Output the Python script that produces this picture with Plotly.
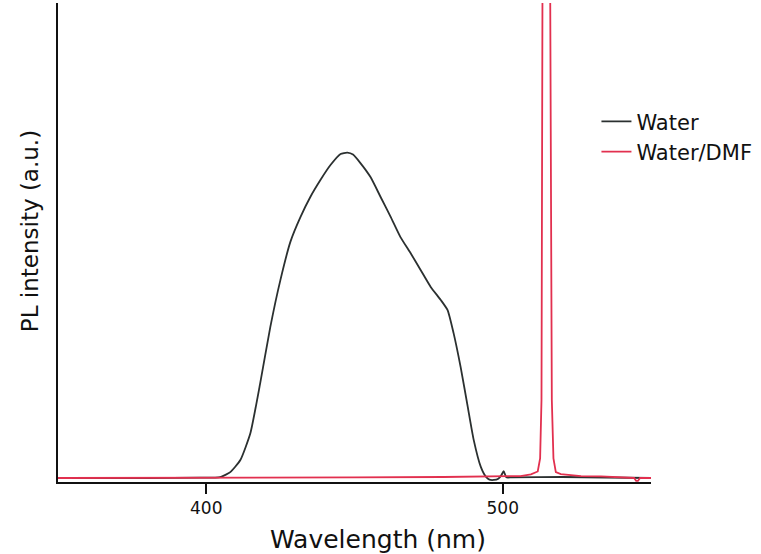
import plotly.graph_objects as go

# Water emission spectrum (a.u., peak ~1)
wl_water = [350, 380, 398, 404.7, 408.1, 411.5, 414.9, 418.2, 421.6, 425.0, 428.4,
            431.8, 435.1, 438.5, 441.9, 445.3, 447.6, 449.5, 452.0, 455.4, 458.8,
            462.2, 465.5, 468.9, 472.3, 475.7, 479.1, 481.4, 483.4, 485.8, 488.2,
            490.2, 492.6, 494.3, 495.5, 497.0, 498.5, 499.5, 500.3, 501.2, 503,
            520, 550]
pl_water = [0, 0, 0.001, 0.003, 0.018, 0.055, 0.138, 0.291, 0.463, 0.607, 0.725,
            0.801, 0.862, 0.914, 0.960, 0.994, 0.998, 0.992, 0.966, 0.923, 0.862,
            0.801, 0.739, 0.690, 0.638, 0.586, 0.546, 0.515, 0.445, 0.340, 0.218,
            0.117, 0.034, 0.004, -0.005, -0.006, -0.002, 0.008, 0.021, 0.002, 0.002,
            0.003, 0.0]

# Water/DMF emission spectrum (sharp peak near 515 nm, off scale)
wl_dmf = [350, 400, 450, 480, 500, 506, 509.5, 511.1, 511.8, 512.6, 513.07, 513.4,
          514.7, 516.0, 516.55, 517.1, 517.9, 519.6, 526.4, 533.1, 539.9, 544.3,
          545.0, 545.6, 546.3, 550]
pl_dmf = [0, 0, 0.002, 0.003, 0.004, 0.006, 0.011, 0.016, 0.02, 0.06, 0.24, 1.5,
          6.0, 1.5, 0.24, 0.06, 0.018, 0.012, 0.006, 0.005, 0.003, 0.0,
          -0.009, -0.009, 0.0, 0.0]

x_ticks = [400, 500]

FONT = "DejaVu Sans"

fig = go.Figure()
fig.add_trace(go.Scatter(x=wl_water, y=pl_water, mode="lines", name="Water",
                         line=dict(color="#2b3030", width=1.8, shape="spline", smoothing=0.5)))
fig.add_trace(go.Scatter(x=wl_dmf, y=pl_dmf, mode="lines", name="Water/DMF",
                         line=dict(color="#e2304f", width=1.8)))

fig.update_layout(
    width=761, height=554,
    margin=dict(l=58, r=110, t=3, b=72),
    paper_bgcolor="white", plot_bgcolor="white",
    font=dict(family=FONT, color="#111"),
    showlegend=True,
    legend=dict(x=0.908, y=0.795, xanchor="left", yanchor="top",
                font=dict(size=21, family=FONT), bgcolor="rgba(0,0,0,0)",
                tracegroupgap=0),
    xaxis=dict(range=[350, 550], tickvals=x_ticks, ticks="outside", ticklen=10,
               tickwidth=2, tickcolor="#111", showline=True, linecolor="#111",
               linewidth=2, showgrid=False, zeroline=False,
               tickfont=dict(size=17, family=FONT)),
    yaxis=dict(range=[-0.0123, 1.457], showticklabels=False, ticks="",
               showline=True, linecolor="#111", linewidth=2,
               showgrid=False, zeroline=False),
    annotations=[
        dict(text="Wavelength (nm)", xref="paper", yref="paper", x=0.54, y=-0.121,
             showarrow=False, font=dict(size=25, family=FONT), xanchor="center", yanchor="middle"),
        dict(text="PL intensity (a.u.)", xref="paper", yref="paper", x=-0.047, y=0.524,
             showarrow=False, textangle=-90, font=dict(size=23, family=FONT),
             xanchor="center", yanchor="middle"),
    ],
)

# page body has a default 8px margin; drop it so the figure fills the window
fig.write_html("out.html", config={"displayModeBar": False},
               post_script="document.body.style.margin='0';")
